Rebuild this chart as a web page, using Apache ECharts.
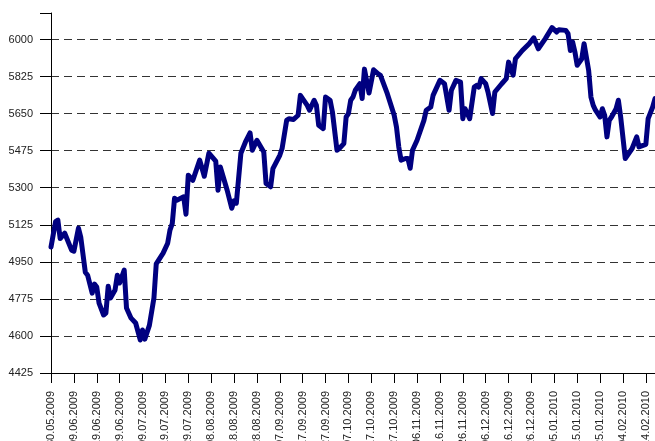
<!DOCTYPE html>
<html>
<head>
<meta charset="utf-8">
<script src="https://cdn.jsdelivr.net/npm/echarts@6/dist/echarts.min.js"></script>
<style>
  html, body { margin: 0; padding: 0; background: #fff; }
  #chart { width: 655px; height: 441px; }
</style>
</head>
<body>
<div id="chart"></div>
<script>
// trading dates (ISO) and index values
const dates = [
  '2009-05-30','2009-06-01','2009-06-02','2009-06-03','2009-06-05','2009-06-08','2009-06-09','2009-06-11','2009-06-12','2009-06-14',
  '2009-06-15','2009-06-17','2009-06-18','2009-06-19','2009-06-20','2009-06-22','2009-06-23','2009-06-24','2009-06-25','2009-06-27',
  '2009-06-28','2009-06-29','2009-07-01','2009-07-02','2009-07-04','2009-07-06','2009-07-08','2009-07-09','2009-07-10','2009-07-12',
  '2009-07-14','2009-07-15','2009-07-18','2009-07-20','2009-07-21','2009-07-22','2009-07-23','2009-07-24','2009-07-27','2009-07-28',
  '2009-07-29','2009-07-31','2009-08-03','2009-08-05','2009-08-07','2009-08-10','2009-08-11','2009-08-12','2009-08-15','2009-08-17',
  '2009-08-18','2009-08-19','2009-08-21','2009-08-23','2009-08-25','2009-08-26','2009-08-28','2009-08-31','2009-09-01','2009-09-03',
  '2009-09-04','2009-09-07','2009-09-08','2009-09-10','2009-09-11','2009-09-13','2009-09-15','2009-09-16','2009-09-19','2009-09-20',
  '2009-09-22','2009-09-23','2009-09-24','2009-09-26','2009-09-27','2009-09-29','2009-09-30','2009-10-02','2009-10-03','2009-10-05',
  '2009-10-06','2009-10-07','2009-10-08','2009-10-09','2009-10-10','2009-10-12','2009-10-13','2009-10-14','2009-10-16','2009-10-18',
  '2009-10-20','2009-10-21','2009-10-24','2009-10-27','2009-10-28','2009-10-29','2009-10-30','2009-11-01','2009-11-02','2009-11-03',
  '2009-11-04','2009-11-06','2009-11-09','2009-11-10','2009-11-12','2009-11-13','2009-11-16','2009-11-18','2009-11-20','2009-11-21',
  '2009-11-23','2009-11-25','2009-11-26','2009-11-27','2009-11-29','2009-12-01','2009-12-02','2009-12-03','2009-12-04','2009-12-06',
  '2009-12-07','2009-12-09','2009-12-10','2009-12-13','2009-12-15','2009-12-16','2009-12-18','2009-12-19','2009-12-22','2009-12-25',
  '2009-12-27','2009-12-29','2010-01-01','2010-01-04','2010-01-06','2010-01-07','2010-01-10','2010-01-11','2010-01-12','2010-01-13',
  '2010-01-14','2010-01-15','2010-01-16','2010-01-17','2010-01-18','2010-01-20','2010-01-21','2010-01-22','2010-01-23','2010-01-25',
  '2010-01-26','2010-01-27','2010-01-28','2010-01-29','2010-01-30','2010-02-01','2010-02-02','2010-02-03','2010-02-05','2010-02-08',
  '2010-02-10','2010-02-11','2010-02-14','2010-02-15','2010-02-17','2010-02-18'
];
const values = [
  5020,5140,5147,5060,5085,5005,5000,5109,5067,4901,
  4887,4802,4845,4831,4755,4699,4708,4835,4779,4817,
  4887,4850,4911,4732,4684,4661,4581,4628,4585,4650,
  4780,4940,4991,5038,5100,5130,5250,5241,5257,5175,
  5359,5335,5430,5354,5463,5426,5288,5398,5288,5203,
  5238,5227,5463,5516,5559,5477,5524,5469,5320,5304,
  5390,5453,5485,5618,5626,5622,5642,5736,5689,5666,
  5713,5689,5595,5579,5728,5713,5658,5477,5485,5508,
  5634,5650,5713,5728,5760,5791,5721,5860,5747,5857,
  5838,5831,5744,5642,5587,5493,5430,5438,5438,5392,
  5477,5524,5618,5666,5681,5736,5807,5791,5666,5760,
  5807,5799,5626,5673,5626,5775,5783,5775,5815,5791,
  5752,5650,5752,5791,5815,5893,5831,5909,5948,5980,
  6008,5956,6003,6056,6035,6046,6043,6027,5948,5988,
  5941,5878,5893,5909,5980,5854,5728,5689,5666,5634,
  5673,5642,5540,5618,5634,5673,5713,5634,5438,5485,
  5540,5493,5505,5626,5681,5721
];
const xTickDates = [
  '30.05.2009','09.06.2009','19.06.2009','29.06.2009','09.07.2009','19.07.2009','29.07.2009',
  '08.08.2009','18.08.2009','28.08.2009','07.09.2009','17.09.2009','27.09.2009','07.10.2009',
  '17.10.2009','27.10.2009','06.11.2009','16.11.2009','26.11.2009','06.12.2009','16.12.2009',
  '26.12.2009','05.01.2010','15.01.2010','25.01.2010','04.02.2010','14.02.2010'
];
const yTicks = [4425, 4600, 4775, 4950, 5125, 5300, 5475, 5650, 5825, 6000];

const DAY = 86400000;
const t0 = Date.UTC(2009, 4, 30);
const dayIndex = iso => {
  const p = iso.split('-').map(Number);
  return Math.round((Date.UTC(p[0], p[1] - 1, p[2]) - t0) / DAY);
};
const fmtDay = d => {
  const dt = new Date(t0 + d * DAY);
  const pad = n => String(n).padStart(2, '0');
  return pad(dt.getUTCDate()) + '.' + pad(dt.getUTCMonth() + 1) + '.' + dt.getUTCFullYear();
};
const xTicks = xTickDates.map(s => {
  const p = s.split('.');
  return dayIndex(p[2] + '-' + p[1] + '-' + p[0]);
});
const seriesData = dates.map((d, i) => [dayIndex(d), values[i]]);

const chart = echarts.init(document.getElementById('chart'));
chart.setOption({
  animation: false,
  backgroundColor: '#fff',
  grid: { left: 51, right: 0, top: 13, bottom: 68, containLabel: false, outerBoundsMode: 'none' },
  xAxis: {
    type: 'value',
    min: 0,
    max: dayIndex('2010-02-18'),
    interval: 10,
    axisLine: { show: true, lineStyle: { color: '#000', width: 1 } },
    axisTick: { show: true, length: 10, lineStyle: { color: '#000', width: 1 } },
    axisLabel: {
      customValues: xTicks,
      rotate: 90,
      margin: 18,
      fontFamily: 'Liberation Sans, Arial, sans-serif',
      fontSize: 11,
      color: '#222',
      formatter: v => fmtDay(v)
    },
    splitLine: { show: false }
  },
  yAxis: {
    type: 'value',
    min: 4425,
    max: 6125,
    interval: 175,
    axisLine: { show: true, lineStyle: { color: '#000', width: 1 } },
    axisTick: { show: true, length: 11, lineStyle: { color: '#000', width: 1 } },
    axisLabel: {
      customValues: yTicks,
      margin: 18,
      fontFamily: 'Liberation Sans, Arial, sans-serif',
      fontSize: 11,
      color: '#222',
      formatter: v => String(v)
    },
    splitLine: {
      show: true,
      showMaxLine: false,
      lineStyle: { color: '#333', width: 1, type: [8, 5] }
    }
  },
  series: [{
    type: 'line',
    data: seriesData,
    showSymbol: false,
    symbol: 'none',
    lineStyle: { color: '#000080', width: 5, join: 'round', cap: 'round' }
  }]
});
</script>
</body>
</html>
